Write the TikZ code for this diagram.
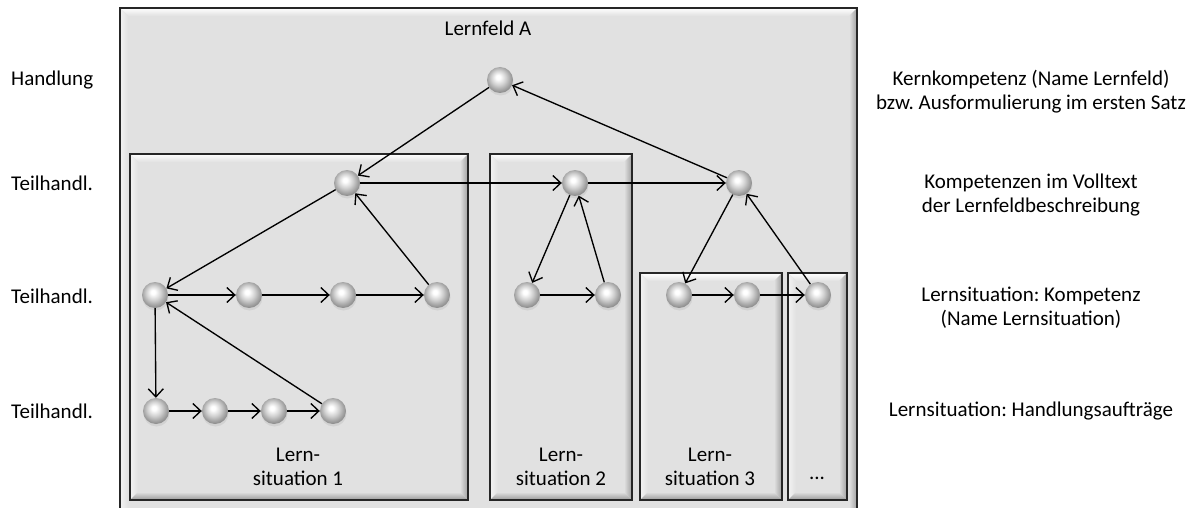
\documentclass[tikz,border=0pt]{standalone}
\usepackage{fontspec}
\setmainfont{Carlito}
\usetikzlibrary{arrows.meta,shadows}
\definecolor{boxgray}{HTML}{E1E1E1}
\pgfdeclareradialshading{lightball}{\pgfpoint{-4bp}{6bp}}{%
  color(0bp)=(white); color(4bp)=(white); color(14bp)=(black!18);
  color(22bp)=(black!35); color(27bp)=(black!45); color(31bp)=(black!30); color(50bp)=(black!30)}
\tikzset{
  ball/.style={circle, minimum size=26pt, inner sep=0pt, shading=lightball,
    drop shadow={opacity=0.15, shadow xshift=0.5pt, shadow yshift=-2.5pt}},
  arr/.style={line width=1.35pt, -{Straight Barb[length=8pt,width=15pt,line width=1.35pt]}},
  lbl/.style={font=\fontsize{21}{24}\selectfont, inner sep=0pt, align=center},
  frame/.style={line width=1.6pt, draw=black!85},
}
\newcommand{\bevbox}[4]{%
  \fill[boxgray] (#1,#2) rectangle (#3,#4);
  \shade[top color=white, bottom color=boxgray] (#1,#2)--(#3,#2)--(#3-8,#2+8)--(#1+8,#2+8)--cycle;
  \shade[left color=gray!10, right color=boxgray] (#1,#2)--(#1+8,#2+8)--(#1+8,#4-8)--(#1,#4)--cycle;
  \shade[left color=boxgray, right color=gray!75] (#3,#2)--(#3-8,#2+8)--(#3-8,#4-8)--(#3,#4)--cycle;
  \shade[top color=boxgray, bottom color=gray!80] (#1,#4)--(#1+8,#4-8)--(#3-8,#4-8)--(#3,#4)--cycle;
  \draw[frame] (#1,#2) rectangle (#3,#4);
}
\begin{document}
\frenchspacing
\begin{tikzpicture}[x=1pt,y=-1pt]
\useasboundingbox (0,0) rectangle (1199,508);
\fill[white] (0,0) rectangle (1199,508);
% boxes
\bevbox{120}{8}{857}{518}
\bevbox{130}{154}{468}{500}
\bevbox{490}{154}{632}{500}
\bevbox{640}{273}{782}{500}
\bevbox{788}{273}{847}{500}
% box labels
\node[lbl] (lf) at (488,28) {Lernfeld A};
\node[lbl] (ls1) at (298,467) {Lern-\\situation 1};
\node[lbl] (ls2) at (561,467) {Lern-\\situation 2};
\node[lbl] (ls3) at (710,467) {Lern-\\situation 3};
\node[lbl] (ls4) at (817,478) {...};
% left labels
\node[lbl,anchor=west] (h0) at (11,80) {Handlung};
\node[lbl,anchor=west] (h1) at (11,183) {Teilhandl.};
\node[lbl,anchor=west] (h2) at (11,296) {Teilhandl.};
\node[lbl,anchor=west] (h3) at (11,411) {Teilhandl.};
% right labels
\node[lbl] (r0) at (1031,92) {Kernkompetenz (Name Lernfeld)\\bzw. Ausformulierung im ersten Satz};
\node[lbl] (r1) at (1031,195) {Kompetenzen im Volltext\\der Lernfeldbeschreibung};
\node[lbl] (r2) at (1031,308) {Lernsituation: Kompetenz\\(Name Lernsituation)};
\node[lbl] (r3) at (1031,411) {Lernsituation: Handlungsaufträge};
% balls
\node[ball] (n0) at (500,80) {};
\node[ball] (a1) at (347,183) {};
\node[ball] (a2) at (575,183) {};
\node[ball] (a3) at (739,183) {};
\node[ball] (b1) at (155,295) {};
\node[ball] (b2) at (249,295) {};
\node[ball] (b3) at (343,295) {};
\node[ball] (b4) at (437,295) {};
\node[ball] (b5) at (527,295) {};
\node[ball] (b6) at (608,295) {};
\node[ball] (b7) at (679,295) {};
\node[ball] (b8) at (747,295) {};
\node[ball] (b9) at (818,295) {};
\node[ball] (c1) at (156,411) {};
\node[ball] (c2) at (215,411) {};
\node[ball] (c3) at (274,411) {};
\node[ball] (c4) at (333,411) {};
% connectors
\draw[arr] (n0) -- (a1);
\draw[arr] (a3) -- (n0);
\draw[arr] (a1) -- (a2);
\draw[arr] (a2) -- (a3);
\draw[arr] (a1) -- (b1);
\draw[arr] (b4) -- (a1);
\draw[arr] (b1) -- (b2);
\draw[arr] (b2) -- (b3);
\draw[arr] (b3) -- (b4);
\draw[arr] (b1) -- (c1);
\draw[arr] (c4) -- (b1);
\draw[arr] (c1) -- (c2);
\draw[arr] (c2) -- (c3);
\draw[arr] (c3) -- (c4);
\draw[arr] (a2) -- (b5);
\draw[arr] (b6) -- (a2);
\draw[arr] (b5) -- (b6);
\draw[arr] (a3) -- (b7);
\draw[arr] (b9) -- (a3);
\draw[arr] (b7) -- (b8);
\draw[arr] (b8) -- (b9);
\end{tikzpicture}
\end{document}
